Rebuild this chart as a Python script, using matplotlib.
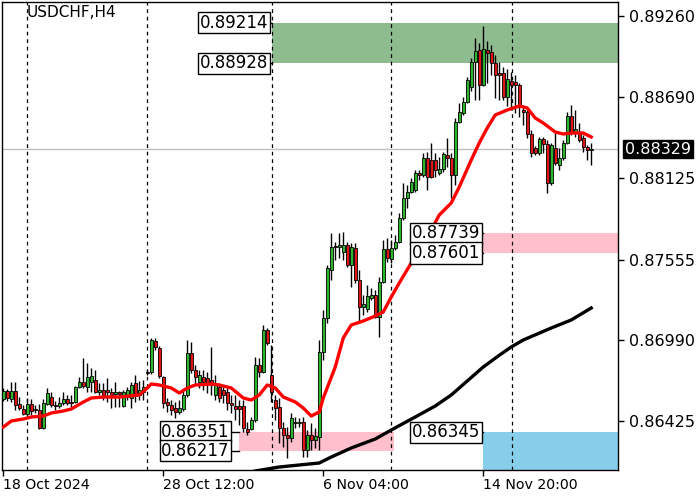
import matplotlib
matplotlib.use("Agg")
import matplotlib.pyplot as plt
import matplotlib.transforms as mtransforms
import numpy as np

# USDCHF H4 candles
opens = [0.86579, 0.86635, 0.86579, 0.86635, 0.86544, 0.86509, 0.86474, 0.86544, 0.86509, 0.86502,
         0.86376, 0.86544, 0.86593, 0.86537, 0.86530, 0.86551, 0.86579, 0.86558, 0.86558, 0.86663,
         0.86698, 0.86663, 0.86698, 0.86712, 0.86628, 0.86642, 0.86642, 0.86628, 0.86614, 0.86628,
         0.86530, 0.86593, 0.86586, 0.86691, 0.86607, 0.86628, 0.86768, 0.86768, 0.86985, 0.86936,
         0.86733, 0.86558, 0.86537, 0.86516, 0.86488, 0.86509, 0.86607, 0.86901, 0.86782, 0.86698,
         0.86733, 0.86726, 0.86712, 0.86607, 0.86663, 0.86642, 0.86628, 0.86551, 0.86530, 0.86530,
         0.86530, 0.86369, 0.86369, 0.86432, 0.86817, 0.86768, 0.87062, 0.86747, 0.86572, 0.86523,
         0.86376, 0.86327, 0.86306, 0.86411, 0.86411, 0.86418, 0.86222, 0.86327, 0.86292, 0.86313,
         0.86908, 0.87146, 0.87482, 0.87650, 0.87643, 0.87608, 0.87657, 0.87517, 0.87636, 0.87412,
         0.87223, 0.87209, 0.87286, 0.87307, 0.87153, 0.87398, 0.87629, 0.87559, 0.87636, 0.87678,
         0.87846, 0.87986, 0.88028, 0.88042, 0.88161, 0.88147, 0.88266, 0.88252, 0.88252, 0.88161,
         0.88189, 0.88287, 0.88266, 0.88147, 0.88518, 0.88581, 0.88658, 0.88763, 0.88938, 0.89022,
         0.88777, 0.89022, 0.89008, 0.88931, 0.88861, 0.88861, 0.88693, 0.88805, 0.88798, 0.88777,
         0.88602, 0.88588, 0.88434, 0.88336, 0.88301, 0.88399, 0.88364, 0.88091, 0.88336, 0.88217,
         0.88266, 0.88371, 0.88560, 0.88441, 0.88448, 0.88406, 0.88343, 0.88322]
highs = [0.86656, 0.86649, 0.86698, 0.86698, 0.86593, 0.86537, 0.86586, 0.86579, 0.86537, 0.86544,
         0.86579, 0.86656, 0.86628, 0.86565, 0.86593, 0.86628, 0.86607, 0.86607, 0.86670, 0.86733,
         0.86866, 0.86831, 0.86796, 0.86782, 0.86691, 0.86691, 0.86726, 0.86656, 0.86698, 0.86635,
         0.86642, 0.86663, 0.86698, 0.86747, 0.86705, 0.86712, 0.86782, 0.87006, 0.87006, 0.86950,
         0.86740, 0.86586, 0.86572, 0.86558, 0.86572, 0.86642, 0.86992, 0.86978, 0.86817, 0.86782,
         0.86782, 0.86768, 0.86943, 0.86747, 0.86691, 0.86677, 0.86656, 0.86607, 0.86607, 0.86572,
         0.86572, 0.86418, 0.86453, 0.86873, 0.86866, 0.87097, 0.87076, 0.86957, 0.86607, 0.86586,
         0.86418, 0.86383, 0.86481, 0.86453, 0.86446, 0.86453, 0.86362, 0.86411, 0.86376, 0.86992,
         0.87202, 0.87517, 0.87741, 0.87678, 0.87741, 0.87748, 0.87678, 0.87671, 0.87671, 0.87482,
         0.87307, 0.87377, 0.87356, 0.87342, 0.87433, 0.87692, 0.87706, 0.87692, 0.87727, 0.87881,
         0.88091, 0.88077, 0.88126, 0.88182, 0.88182, 0.88301, 0.88308, 0.88371, 0.88301, 0.88273,
         0.88308, 0.88406, 0.88301, 0.88546, 0.88651, 0.88693, 0.88833, 0.88966, 0.89106, 0.89071,
         0.89190, 0.89085, 0.89057, 0.88987, 0.88938, 0.88903, 0.88889, 0.88868, 0.88847, 0.88791,
         0.88637, 0.88602, 0.88462, 0.88350, 0.88413, 0.88413, 0.88392, 0.88371, 0.88441, 0.88336,
         0.88392, 0.88588, 0.88637, 0.88602, 0.88511, 0.88427, 0.88357, 0.88371]
lows = [0.86565, 0.86565, 0.86558, 0.86502, 0.86502, 0.86467, 0.86467, 0.86467, 0.86481, 0.86369,
        0.86369, 0.86537, 0.86523, 0.86502, 0.86516, 0.86537, 0.86537, 0.86523, 0.86551, 0.86656,
        0.86656, 0.86628, 0.86628, 0.86621, 0.86607, 0.86572, 0.86558, 0.86516, 0.86523, 0.86523,
        0.86523, 0.86572, 0.86516, 0.86558, 0.86572, 0.86572, 0.86747, 0.86754, 0.86922, 0.86726,
        0.86516, 0.86488, 0.86467, 0.86446, 0.86474, 0.86495, 0.86593, 0.86761, 0.86677, 0.86656,
        0.86642, 0.86621, 0.86607, 0.86572, 0.86558, 0.86551, 0.86502, 0.86481, 0.86432, 0.86397,
        0.86348, 0.86327, 0.86362, 0.86418, 0.86733, 0.86761, 0.86957, 0.86558, 0.86432, 0.86271,
        0.86243, 0.86166, 0.86278, 0.86376, 0.86383, 0.86173, 0.86173, 0.86222, 0.86236, 0.86222,
        0.86852, 0.87111, 0.87412, 0.87552, 0.87566, 0.87552, 0.87503, 0.87363, 0.87391, 0.87118,
        0.87167, 0.87188, 0.87272, 0.87146, 0.87013, 0.87391, 0.87538, 0.87531, 0.87622, 0.87671,
        0.87832, 0.87916, 0.88021, 0.88028, 0.88112, 0.88133, 0.88042, 0.88126, 0.88133, 0.88147,
        0.88168, 0.88203, 0.87986, 0.88077, 0.88511, 0.88567, 0.88651, 0.88735, 0.88672, 0.88672,
        0.88770, 0.88791, 0.88847, 0.88686, 0.88672, 0.88672, 0.88630, 0.88602, 0.88581, 0.88553,
        0.88497, 0.88406, 0.88273, 0.88287, 0.88287, 0.88301, 0.88021, 0.88077, 0.88217, 0.88182,
        0.88252, 0.88364, 0.88427, 0.88413, 0.88378, 0.88308, 0.88252, 0.88217]
closes = [0.86635, 0.86586, 0.86635, 0.86537, 0.86516, 0.86474, 0.86544, 0.86495, 0.86502, 0.86376,
          0.86551, 0.86621, 0.86537, 0.86530, 0.86551, 0.86579, 0.86551, 0.86551, 0.86663, 0.86698,
          0.86670, 0.86733, 0.86740, 0.86628, 0.86642, 0.86607, 0.86628, 0.86607, 0.86628, 0.86614,
          0.86628, 0.86642, 0.86677, 0.86600, 0.86642, 0.86663, 0.86761, 0.86992, 0.86943, 0.86740,
          0.86551, 0.86537, 0.86502, 0.86488, 0.86516, 0.86607, 0.86901, 0.86782, 0.86733, 0.86747,
          0.86698, 0.86691, 0.86677, 0.86691, 0.86586, 0.86607, 0.86551, 0.86537, 0.86509, 0.86509,
          0.86376, 0.86348, 0.86432, 0.86817, 0.86768, 0.87062, 0.86971, 0.86628, 0.86516, 0.86376,
          0.86327, 0.86306, 0.86446, 0.86418, 0.86418, 0.86222, 0.86327, 0.86292, 0.86320, 0.86908,
          0.87146, 0.87496, 0.87643, 0.87643, 0.87657, 0.87657, 0.87517, 0.87643, 0.87412, 0.87223,
          0.87244, 0.87300, 0.87307, 0.87153, 0.87398, 0.87629, 0.87566, 0.87636, 0.87678, 0.87846,
          0.87986, 0.88028, 0.88098, 0.88161, 0.88147, 0.88266, 0.88133, 0.88133, 0.88182, 0.88189,
          0.88294, 0.88266, 0.88147, 0.88518, 0.88588, 0.88658, 0.88812, 0.88938, 0.89015, 0.88777,
          0.89029, 0.89001, 0.88931, 0.88847, 0.88847, 0.88693, 0.88819, 0.88777, 0.88777, 0.88623,
          0.88588, 0.88434, 0.88301, 0.88301, 0.88399, 0.88364, 0.88091, 0.88357, 0.88231, 0.88266,
          0.88371, 0.88560, 0.88441, 0.88469, 0.88392, 0.88343, 0.88322, 0.88329]

# moving averages, sampled along the drawn lines (bar index, price)
fast_ma_bar = [0, 2, 5, 7, 10, 12, 15, 17, 20, 22, 25, 27, 29, 34, 36, 37, 39, 42, 44, 46,
               48, 52, 54, 57, 60, 62, 64, 66, 68, 70, 73, 75, 77, 79, 80, 83, 85, 87, 90, 93,
               95, 97, 99, 102, 104, 107, 109, 112, 114, 117, 119, 121, 123, 126, 129, 131, 133, 135, 138, 140,
               142, 145, 147]
fast_ma = [0.86383, 0.86425, 0.86439, 0.86453, 0.86460, 0.86481, 0.86495, 0.86509, 0.86558, 0.86586,
           0.86593, 0.86593, 0.86593, 0.86607, 0.86656, 0.86684, 0.86677, 0.86656, 0.86621, 0.86656,
           0.86677, 0.86684, 0.86677, 0.86656, 0.86586, 0.86572, 0.86607, 0.86677, 0.86656, 0.86593,
           0.86558, 0.86516, 0.86460, 0.86488, 0.86586, 0.86803, 0.87006, 0.87097, 0.87125, 0.87160,
           0.87188, 0.87293, 0.87391, 0.87531, 0.87636, 0.87762, 0.87867, 0.87951, 0.88063, 0.88252,
           0.88371, 0.88476, 0.88567, 0.88602, 0.88630, 0.88616, 0.88546, 0.88511, 0.88448, 0.88434,
           0.88441, 0.88441, 0.88413]
slow_ma_bar = [58, 63, 69, 79, 82, 87, 93, 97, 103, 108, 112, 116, 120, 124, 127, 130, 137, 142, 147]
slow_ma = [0.86040, 0.86075, 0.86103, 0.86131, 0.86173, 0.86236, 0.86299, 0.86362, 0.86453, 0.86530,
           0.86607, 0.86705, 0.86803, 0.86885, 0.86943, 0.86992, 0.87076, 0.87132, 0.87216]

# zones: (start bar, end bar, top, bottom, colour, labels, label bar)
zones = [
    (67.2, 160, 0.89214, 0.88928, '#8fbc8f', ['0.89214', '0.88928'], 66.2),
    (119.9, 160, 0.87739, 0.87601, '#ffc0cb', ['0.87739', '0.87601'], 119.2),
    (58.9, 97.7, 0.86351, 0.86217, '#ffc0cb', ['0.86351', '0.86217'], 56.6),
    (119.9, 160, 0.86345, 0.8500, '#87ceeb', ['0.86345'], 119.2),
]
separators = [6, 36, 67.1, 96.9, 127.1]
price_ticks = [0.89260, 0.88690, 0.88125, 0.87555, 0.86990, 0.86425]
date_ticks = [0, 40, 80, 120]
date_labels = ['18 Oct 2024', '28 Oct 12:00', '6 Nov 04:00', '14 Nov 20:00']
last_price = 0.88329

fig = plt.figure(figsize=(7, 5), dpi=100)
ax = fig.add_axes([2 / 700, 30 / 500, 616 / 700, 468 / 500])
ax.set_xlim(-0.33, 153.7)
ax.set_ylim(0.86082, 0.89358)

for z in zones:
    x0, x1, top, bot, col, labs, lab_x = z
    ax.fill_between([x0, x1], bot, top, color=col, lw=0, zorder=1)
    for lab, yv in zip(labs, [top, bot]):
        ax.plot([lab_x, x0], [yv, yv], color='black', lw=1, zorder=4)
        ax.text(lab_x, yv, lab, ha='right', va='center', fontsize=12, zorder=5,
                bbox=dict(boxstyle='square,pad=0.1', fc='white', ec='black', lw=1))

for s in separators:
    ax.axvline(s, color='black', lw=0.9, ls=(0, (3, 3)), zorder=2)
ax.axhline(last_price, color='#c0c0c0', lw=1, zorder=2)

x = np.arange(len(opens))
o = np.array(opens)
c = np.array(closes)
up = c >= o
body_lo = np.minimum(o, c)
body_h = np.maximum(np.abs(c - o), 0.00004)
ax.vlines(x, lows, highs, color='black', lw=1, zorder=3)
ax.bar(x, body_h, bottom=body_lo, width=0.72,
       color=np.where(up, '#2db52d', '#e01414'), edgecolor='black', linewidth=0.6, zorder=3)

ax.plot(fast_ma_bar, fast_ma, color='#ff0000', lw=2.4, zorder=4)
ax.plot(slow_ma_bar, slow_ma, color='black', lw=2.4, zorder=4)

ax.yaxis.tick_right()
ax.set_yticks(price_ticks)
ax.set_yticklabels(['%.5f' % p for p in price_ticks], fontsize=11.5)
ax.set_xticks(date_ticks)
ax.set_xticklabels(date_labels, fontsize=10.2, ha='left')
ax.tick_params(axis='both', direction='out', length=4, width=1, pad=2)
ax.tick_params(axis='y', pad=4)
for sp in ax.spines.values():
    sp.set_color('black')
    sp.set_linewidth(1)

trans = mtransforms.blended_transform_factory(ax.transAxes, ax.transData)
ax.text(1.012, last_price, '%.5f' % last_price, transform=trans, color='white',
        fontsize=11.5, ha='left', va='center',
        bbox=dict(boxstyle='square,pad=0.12', fc='black', ec='black'))
ax.text(25 / 616, 0.993, 'USDCHF,H4', transform=ax.transAxes, fontsize=11,
        ha='left', va='top', color='black')

fig.savefig('out.png', dpi=100)
